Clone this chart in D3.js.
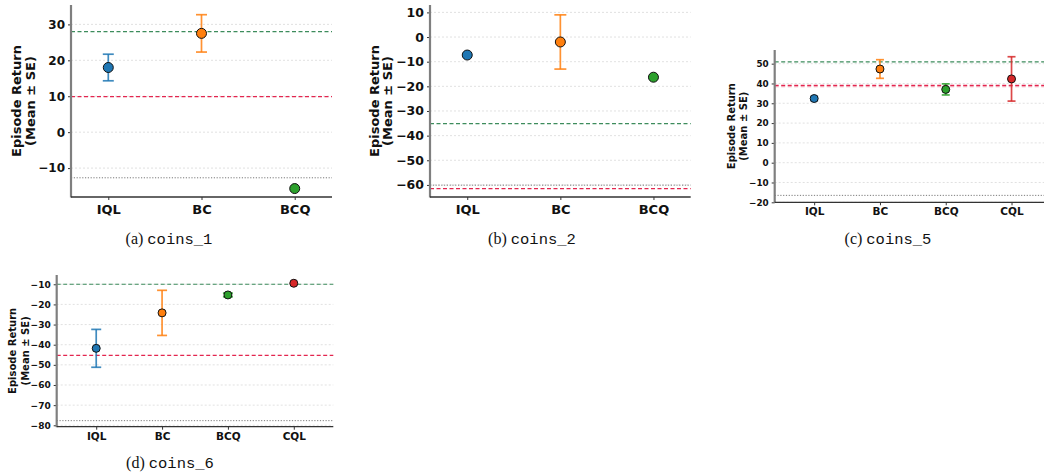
<!DOCTYPE html>
<html lang="en">
<head>
<meta charset="UTF-8">
<title>Episode Return per method</title>
<script src="https://d3js.org/d3.v7.min.js"></script>
<style>
  body { margin: 0; background: #fff; }
  svg { display: block; }
</style>
</head>
<body>
<svg width="1044" height="476"></svg>
<script>
// ---- data ----
const methods3 = ["IQL", "BC", "BCQ"];
const methods4 = ["IQL", "BC", "BCQ", "CQL"];
const methodColors = ["#1f77b4", "#ff7f0e", "#2ca02c", "#d62728"];

// reference lines: [green dashed, red dashed, gray dotted]
const coins1Mean = [18.0, 27.5, -15.7];
const coins1Se = [3.7, 5.2, 0.0];
const coins1Ref = [28.0, 9.9, -12.7];
const coins1Ticks = [-10, 0, 10, 20, 30];

const coins2Mean = [-7.3, -2.0, -16.3];
const coins2Se = [0.0, 11.0, 0.0];
const coins2Ref = [-35.1, -61.5, -60.1];
const coins2Ticks = [-60, -50, -40, -30, -20, -10, 0, 10];

const coins5Mean = [32.4, 47.3, 37.0, 42.3];
const coins5Se = [1.0, 4.7, 2.8, 11.2];
const coins5Ref = [50.9, 39.0, -16.5];
const coins5Ticks = [-20, -10, 0, 10, 20, 30, 40, 50];

const coins6Mean = [-41.8, -24.2, -15.3, -9.5];
const coins6Se = [9.4, 11.2, 0.9, 0.0];
const coins6Ref = [-10.0, -45.3, -77.7];
const coins6Ticks = [-80, -70, -60, -50, -40, -30, -20, -10];

// ---- layout of the four panels ----
const panels = [
  { tag: "(a)", name: "coins_1", cats: methods3, mean: coins1Mean, se: coins1Se, ref: coins1Ref, ticks: coins1Ticks,
    left: 71, right: 332, top: 5, bottom: 197, ydom: [-18.05, 35.4], pad: 0.4,
    tickFont: 12, xFont: 13, labelFont: 13, labelX: [16.5, 30], xLabDy: 12, r: 5, cap: 5.5,
    capX: 169, capY: 244 },
  { tag: "(b)", name: "coins_2", cats: methods3, mean: coins2Mean, se: coins2Se, ref: coins2Ref, ticks: coins2Ticks,
    left: 430, right: 690.7, top: 5, bottom: 197, ydom: [-64.9, 13.0], pad: 0.4,
    tickFont: 12.5, xFont: 13, labelFont: 13, labelX: [374, 387.5], xLabDy: 12, r: 5, cap: 6,
    capX: 532, capY: 244 },
  { tag: "(c)", name: "coins_5", cats: methods4, mean: coins5Mean, se: coins5Se, ref: coins5Ref, ticks: coins5Ticks,
    left: 774.7, right: 1051, top: 50, bottom: 202.3, ydom: [-20.0, 56.9], pad: 0.6,
    tickFont: 8.8, xFont: 10.5, labelFont: 10, labelX: [731, 743], xLabDy: 9.5, r: 4, cap: 4,
    capX: 888, capY: 244 },
  { tag: "(d)", name: "coins_6", cats: methods4, mean: coins6Mean, se: coins6Se, ref: coins6Ref, ticks: coins6Ticks,
    left: 56.7, right: 333.3, top: 275, bottom: 426.7, ydom: [-80.7, -5.4], pad: 0.6,
    tickFont: 9, xFont: 10.5, labelFont: 10, labelX: [12.5, 25], xLabDy: 9.5, r: 4, cap: 5,
    capX: 170, capY: 468 }
];

const refStyles = [
  { color: "#3d8c5c", dash: "4,2.5", width: 1.2 },
  { color: "#e3264f", dash: "4,2.5", width: 1.3 },
  { color: "#7a7a7a", dash: "1.2,1.6", width: 1.0 }
];

const svg = d3.select("svg");
const fmt = d3.format("d");   // uses the proper minus sign

panels.forEach(p => {
  const g = svg.append("g");

  const x = d3.scaleLinear()
    .domain([-p.pad, p.cats.length - 1 + p.pad])
    .range([p.left, p.right]);
  const y = d3.scaleLinear().domain(p.ydom).range([p.bottom, p.top]);

  // grid lines
  g.selectAll(".grid").data(p.ticks).enter().append("line")
    .attr("x1", p.left).attr("x2", p.right)
    .attr("y1", d => y(d)).attr("y2", d => y(d))
    .attr("stroke", "#d9d9d9").attr("stroke-width", 0.8)
    .attr("stroke-dasharray", "2,2");

  // reference lines
  p.ref.forEach((v, i) => {
    const st = refStyles[i];
    if (i === 1 && p.name === "coins_5") {
      g.append("line")
        .attr("x1", p.left).attr("x2", p.right)
        .attr("y1", y(v) + 1.2).attr("y2", y(v) + 1.2)
        .attr("stroke", "#f2a7b6").attr("stroke-width", 1.2)
        .attr("stroke-dasharray", st.dash);
    }
    g.append("line")
      .attr("x1", p.left).attr("x2", p.right)
      .attr("y1", y(v)).attr("y2", y(v))
      .attr("stroke", st.color).attr("stroke-width", st.width)
      .attr("stroke-dasharray", st.dash);
  });

  // error bars
  const pts = p.cats.map((c, i) => ({ c, i, m: p.mean[i], s: p.se[i], col: methodColors[i] }));
  const eb = g.selectAll(".eb").data(pts.filter(d => d.s > 0)).enter().append("g")
    .attr("stroke", d => d.col).attr("stroke-opacity", 0.85).attr("stroke-width", 1.7);
  eb.append("line")
    .attr("x1", d => x(d.i)).attr("x2", d => x(d.i))
    .attr("y1", d => y(d.m - d.s)).attr("y2", d => y(d.m + d.s));
  eb.append("line")
    .attr("x1", d => x(d.i) - p.cap).attr("x2", d => x(d.i) + p.cap)
    .attr("y1", d => y(d.m + d.s)).attr("y2", d => y(d.m + d.s));
  eb.append("line")
    .attr("x1", d => x(d.i) - p.cap).attr("x2", d => x(d.i) + p.cap)
    .attr("y1", d => y(d.m - d.s)).attr("y2", d => y(d.m - d.s));

  // markers
  g.selectAll(".pt").data(pts).enter().append("circle")
    .attr("cx", d => x(d.i)).attr("cy", d => y(d.m)).attr("r", p.r)
    .attr("fill", d => d.col).attr("stroke", "#111").attr("stroke-width", 1);

  // y axis
  const yAxis = d3.axisLeft(y).tickValues(p.ticks).tickFormat(fmt).tickSize(3).tickPadding(3);
  const ya = g.append("g").attr("transform", `translate(${p.left},0)`).call(yAxis);
  ya.select(".domain").remove();
  ya.selectAll("text").attr("font-family", "DejaVu Sans").attr("font-weight", "bold")
    .attr("font-size", p.tickFont).attr("fill", "#111");
  ya.selectAll("line").attr("stroke", "#333");

  // x axis
  const xa = g.append("g").attr("transform", `translate(0,${p.bottom})`)
    .call(d3.axisBottom(x).tickValues(d3.range(p.cats.length)).tickFormat(i => p.cats[i]).tickSize(3).tickPadding(3));
  xa.select(".domain").remove();
  xa.selectAll("line").attr("stroke", "#333");
  xa.selectAll("text").attr("y", p.xLabDy).attr("dy", "0.35em")
    .attr("font-family", "DejaVu Sans").attr("font-weight", "bold")
    .attr("font-size", p.xFont).attr("fill", "#111");

  // spines
  g.append("line").attr("x1", p.left).attr("x2", p.left).attr("y1", p.top).attr("y2", p.bottom + 0.5)
    .attr("stroke", "#7f7f7f").attr("stroke-width", 2.2);
  g.append("line").attr("x1", p.left).attr("x2", p.right).attr("y1", p.bottom).attr("y2", p.bottom)
    .attr("stroke", "#333").attr("stroke-width", 1.3);

  // y label (two lines)
  const cy = (p.top + p.bottom) / 2;
  ["Episode Return", "(Mean \u00b1 SE)"].forEach((t, k) => {
    g.append("text")
      .attr("transform", `translate(${p.labelX[k]},${cy}) rotate(-90)`)
      .attr("text-anchor", "middle").attr("dominant-baseline", "central")
      .attr("font-family", "DejaVu Sans").attr("font-weight", "bold")
      .attr("font-size", p.labelFont).attr("fill", "#111")
      .text(t);
  });

  // caption
  const cap = g.append("text").attr("x", p.capX).attr("y", p.capY)
    .attr("text-anchor", "middle").attr("fill", "#111");
  cap.append("tspan").attr("font-family", "Liberation Serif").attr("font-size", 16).text(p.tag + " ");
  cap.append("tspan").attr("font-family", "Liberation Mono").attr("font-size", 15.5).text(p.name);
});
</script>
</body>
</html>
